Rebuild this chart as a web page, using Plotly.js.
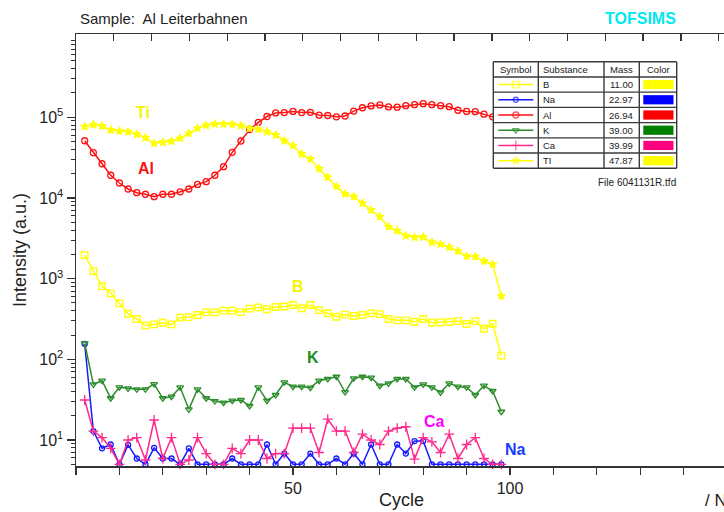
<!DOCTYPE html>
<html>
<head>
<meta charset="utf-8">
<script src="https://cdn.plot.ly/plotly-3.0.1.min.js"></script>
<style>
html,body{margin:0;padding:0;overflow:hidden;background:#fff;width:724px;height:512px;}
#chart{width:800px;height:512px;}
</style>
</head>
<body>
<div id="chart"></div>
<script>
// ---------------- data ----------------
const cycles = [2,4,6,8,10,12,14,16,18,20,22,24,26,28,30,32,34,36,38,40,42,44,46,48,50,
                52,54,56,58,60,62,64,66,68,70,72,74,76,78,80,82,84,86,88,90,92,94,96,98];

const B_vals  = [1960,1240,809,658,494,367,316,264,271,284,271,328,334,354,382,382,400,400,385,424,
                 441,417,445,451,471,429,471,408,372,337,357,344,354,372,364,316,304,304,292,316,
                 284,287,290,298,274,298,239,276,111];
const Na_vals = [155,12.9,7.9,8.8,5,8.7,5.9,5,8.0,5.9,5.9,5,7.9,5,5,5,5,5.9,5,5,
                 5,8.8,5,6.8,5,5,6.8,5,5,5.9,5,6.8,5,8.8,5,5,8.8,6.8,9.7,9.7,
                 5,5,5,5,5,5,5,5,5];
const Al_vals = [51100,36300,26500,19100,15300,12900,11600,11100,10350,11100,11100,11900,12900,14700,15900,19100,24400,36700,50700,70400,
                 86400,102000,113000,114000,118000,114000,115000,106000,105000,101000,103500,119000,131000,138000,142000,134000,133000,139000,143000,147000,
                 143000,139000,135000,122000,118000,117000,109000,101000,98000];
const K_vals  = [158,49.0,54.3,32.9,45.0,43.7,42.5,42.5,49.4,32.9,34.4,45.0,24.0,42.5,32.9,30.4,29.0,30.7,31.3,26.4,
                 45.0,30.7,36.1,51.9,45.8,45.8,44.5,54.3,57.0,60.8,39.3,58.2,60.8,59.2,47.1,50.4,57.0,57.0,45.0,49.0,
                 45.0,39.0,50.4,45.8,45.0,36.1,47.1,40.5,22.4];
const Ca_vals = [31.3,12.9,10.7,7.9,5,10.0,10.7,5.65,17.7,5.9,10.7,5,5.65,10.7,6.8,5,5,7.9,6.8,10.0,
                 10.0,5.9,6.8,6.8,14.0,14.0,14.0,7.0,18.1,12.9,12.9,7.0,11.8,10.0,8.8,12.9,14.0,14.6,5.8,10.7,
                 9.5,7.0,11.8,5.9,8.8,10.7,5.9,5,5];
const Ti_vals = [76300,80700,77800,69400,67400,66100,61400,55700,47500,48900,50300,54700,63100,72800,79400,82400,82400,81700,78500,72800,
                 70800,66100,60200,51100,44400,35000,30300,23000,18000,13800,11200,10350,8570,7080,5850,4400,3920,3400,3250,3280,
                 2820,2670,2450,2190,1900,1870,1650,1500,608];

const substances = ["B","Na","Al","K","Ca","Ti"];
const tableNames = ["B","Na","Al","K","Ca","TI"];
const masses     = ["11.00","22.97","26.94","39.00","39.99","47.87"];
const yTickVals  = [10,100,1000,10000,100000];
const yTickText  = ["10<sup>1</sup>","10<sup>2</sup>","10<sup>3</sup>","10<sup>4</sup>","10<sup>5</sup>"];
const xTickVals  = [50,100];

// ---------------- styles ----------------
const lineColors   = {B:"#ffff00",Na:"#1a1aff",Al:"#ff1010",K:"#2a8c2a",Ca:"#ff2a8c",Ti:"#ffff00"};
const swatchColors = {B:"#ffff00",Na:"#0000ff",Al:"#ff0000",K:"#008000",Ca:"#ff0080",Ti:"#ffff00"};
const symbols      = {B:"square-open",Na:"circle-open",Al:"circle-open",K:"triangle-down-open",Ca:"cross-thin-open",Ti:"star"};
const sizes        = {B:6.5,Na:5,Al:6,Km:6,K:6,Ca:7,Ti:6};
const series = {B:B_vals,Na:Na_vals,Al:Al_vals,K:K_vals,Ca:Ca_vals,Ti:Ti_vals};

// layout geometry (pixels)
const W=800,H=512,ML=76,MR=73,MT=34,MB=46;
const PW=W-ML-MR, PH=H-MT-MB;
const px = x => (x-ML)/PW;
const py = y => (H-MB-y)/PH;

const FONT = "Liberation Sans, Arial, sans-serif";

const traces = [];
substances.forEach(s=>{
  traces.push({
    x: cycles, y: series[s], type:"scatter", mode:"lines+markers", name:s,
    line:{color:lineColors[s], width:1.5},
    marker:{symbol:symbols[s], size:sizes[s], color:lineColors[s], line:{color:lineColors[s], width:1.3}},
    cliponaxis:false, showlegend:false, hoverinfo:"x+y+name"
  });
});
// dummy trace so the top axis is drawn
traces.push({x:[], y:[], xaxis:"x2", yaxis:"y", type:"scatter", showlegend:false});

// ---------------- table (legend) ----------------
const TX0=493.3, TX1=676.7, TY0=61.7, TY1=168.3;
const TW=TX1-TX0, TH=TY1-TY0, RH=TH/7;
const colX=[TX0,538.3,604,639.3,TX1];

// white background of table in its own subplot (drawn above main traces)
traces.push({x:[0,TW,TW,0,0], y:[0,0,TH,TH,0], xaxis:"x3", yaxis:"y3", type:"scatter", mode:"lines",
  fill:"toself", fillcolor:"#ffffff", line:{width:0}, hoverinfo:"skip", showlegend:false});
substances.forEach((s,i)=>{
  const yc = RH*(i+1.5);
  traces.push({x:[5,22.5,40], y:[yc,yc,yc], xaxis:"x3", yaxis:"y3", type:"scatter", mode:"lines+markers",
    line:{color:lineColors[s], width:1.5},
    marker:{symbol:symbols[s], size:[0,sizes[s],0], color:lineColors[s], line:{color:lineColors[s], width:1.3}},
    hoverinfo:"skip", showlegend:false});
});

const shapes=[];
const gridCol="#3a3a3a";
for(let r=0;r<=7;r++){
  const yy=TY0+RH*r;
  shapes.push({type:"line", xref:"paper", yref:"paper", x0:px(TX0), x1:px(TX1), y0:py(yy), y1:py(yy), line:{color:gridCol,width:1.4}, layer:"above"});
}
colX.forEach(cx=>{
  shapes.push({type:"line", xref:"paper", yref:"paper", x0:px(cx), x1:px(cx), y0:py(TY0), y1:py(TY1), line:{color:gridCol,width:1.4}, layer:"above"});
});
substances.forEach((s,i)=>{
  const top=TY0+RH*(i+1)+3, bot=TY0+RH*(i+2)-3;
  shapes.push({type:"rect", xref:"paper", yref:"paper", x0:px(643.3), x1:px(673.5), y0:py(bot), y1:py(top),
    fillcolor:swatchColors[s], line:{width:0}, layer:"above"});
});

const annotations=[];
const tf={family:FONT,size:9.5,color:"#222"};
const hdr=[["Symbol",(colX[0]+colX[1])/2,"center"],["Substance",541,"left"],["Mass",(colX[2]+colX[3])/2,"center"],["Color",(colX[3]+colX[4])/2,"center"]];
hdr.forEach(h=>annotations.push({xref:"paper",yref:"paper",x:px(h[1]),y:py(TY0+RH*0.5),text:h[0],showarrow:false,xanchor:h[2],yanchor:"middle",font:tf}));
substances.forEach((s,i)=>{
  const yc=TY0+RH*(i+1.5);
  annotations.push({xref:"paper",yref:"paper",x:px(541),y:py(yc),text:tableNames[i],showarrow:false,xanchor:"left",yanchor:"middle",font:tf});
  annotations.push({xref:"paper",yref:"paper",x:px(635),y:py(yc),text:masses[i],showarrow:false,xanchor:"right",yanchor:"middle",font:tf});
});
annotations.push({xref:"paper",yref:"paper",x:px(678),y:py(182),text:"File 6041131R.tfd",showarrow:false,xanchor:"right",yanchor:"middle",font:{family:FONT,size:10,color:"#222"}});

// series labels
const labels=[["Ti",143,113,"#f5f500"],["Al",146,168,"#ff1010"],["B",298,286,"#f5f500"],["K",313,357,"#228b22"],["Ca",434,421,"#ff00ff"],["Na",515,449,"#1a3cff"]];
labels.forEach(l=>annotations.push({xref:"paper",yref:"paper",x:px(l[1]),y:py(l[2]),text:"<b>"+l[0]+"</b>",showarrow:false,xanchor:"center",yanchor:"middle",font:{family:FONT,size:16,color:l[3]}}));

// header texts
annotations.push({xref:"paper",yref:"paper",x:px(78),y:py(18),text:"Sample:  Al Leiterbahnen",showarrow:false,xanchor:"left",yanchor:"middle",font:{family:FONT,size:15,color:"#222"}});
annotations.push({xref:"paper",yref:"paper",x:px(640),y:py(18),text:"<b>TOFSIMS</b>",showarrow:false,xanchor:"center",yanchor:"middle",font:{family:FONT,size:16,color:"#00e8f0"}});
annotations.push({xref:"paper",yref:"paper",x:px(401),y:py(500),text:"Cycle",showarrow:false,xanchor:"center",yanchor:"middle",font:{family:FONT,size:18,color:"#222"}});
annotations.push({xref:"paper",yref:"paper",x:px(703),y:py(500),text:"/ N",showarrow:false,xanchor:"left",yanchor:"middle",font:{family:FONT,size:17,color:"#222"}});

const minorVals=[];
for(let e=0;e<6;e++){ for(let d=2;d<=9;d++){ minorVals.push(d*Math.pow(10,e)); } }

const axCol="#333";
const layout={
  width:W, height:H,
  margin:{l:ML,r:MR,t:MT,b:MB},
  paper_bgcolor:"#fff", plot_bgcolor:"#fff",
  font:{family:FONT,color:"#222"},
  showlegend:false,
  xaxis:{range:[0,150], tickmode:"array", tickvals:xTickVals, ticks:"outside", ticklen:7, tickwidth:1.3, tickcolor:axCol,
    showline:true, linecolor:axCol, linewidth:1.5, showgrid:false, zeroline:false,
    tickfont:{family:FONT,size:16,color:"#222"},
    minor:{dtick:10, tick0:0, ticks:"outside", ticklen:7, tickwidth:1.3, tickcolor:axCol, showgrid:false}},
  xaxis2:{overlaying:"x", side:"top", anchor:"y", range:[0,17.22], dtick:1, tick0:0, ticks:"inside", ticklen:7, tickwidth:1.3, tickcolor:axCol,
    showticklabels:false, showline:true, linecolor:axCol, linewidth:1.5, showgrid:false, zeroline:false},
  yaxis:{type:"log", range:[0.678,6.031], tickmode:"array", tickvals:yTickVals, ticktext:yTickText,
    ticks:"outside", ticklen:8, tickwidth:1.3, tickcolor:axCol, showline:true, linecolor:axCol, linewidth:1.5,
    showgrid:false, zeroline:false, tickfont:{family:FONT,size:16,color:"#222"},
    minor:{tickmode:"array", tickvals:minorVals, ticks:"outside", ticklen:4, tickwidth:1, tickcolor:axCol, showgrid:false},
    title:{text:"Intensity (a.u.)", font:{family:FONT,size:18,color:"#222"}, standoff:8}},
  xaxis3:{domain:[px(TX0),px(TX1)], anchor:"y3", range:[0,TW], visible:false, fixedrange:true},
  yaxis3:{domain:[py(TY1),py(TY0)], anchor:"x3", range:[TH,0], visible:false, fixedrange:true},
  shapes:shapes, annotations:annotations
};

Plotly.newPlot("chart", traces, layout, {displayModeBar:false, staticPlot:true});
</script>
</body>
</html>
